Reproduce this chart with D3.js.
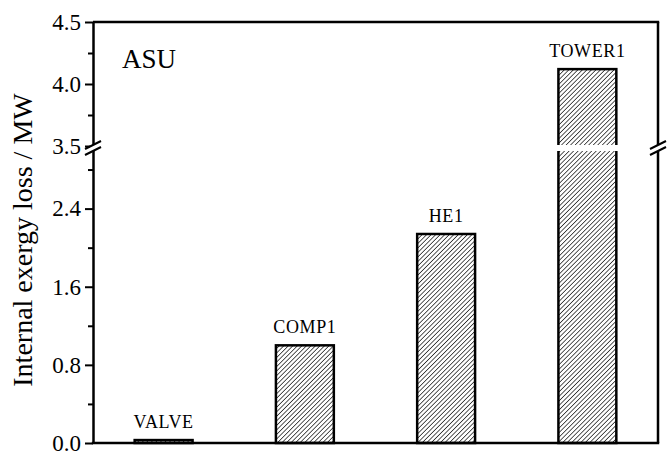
<!DOCTYPE html>
<html>
<head>
<meta charset="utf-8">
<script src="https://cdn.jsdelivr.net/npm/d3@7"></script>
<style>
  html, body { margin: 0; padding: 0; background: #fff; }
  svg { display: block; }
  svg text { font-family: "Liberation Serif", "Tinos", "Times New Roman", "DejaVu Serif", serif !important; fill: #000; }
</style>
</head>
<body>
<svg id="chart" width="667" height="452"></svg>
<script>
// Internal exergy loss per unit of the ASU (MW)
const units = ["VALVE", "COMP1", "HE1", "TOWER1"];
const losses = [0.03, 1.0, 2.14, 4.12];

// Broken y axis: lower part 0–3.0, upper part 3.5–4.5
const lowerTicks = [0.0, 0.8, 1.6, 2.4];
const lowerMinor = [0.4, 1.2, 2.0, 2.8];
const upperTicks = [3.5, 4.0, 4.5];
const upperMinor = [3.75, 4.25];

const svg = d3.select("#chart");
const plotL = 93, plotR = 658, plotT = 22, plotB = 443;
const breakLow = 150, breakHigh = 146;

const x = d3.scaleBand().domain(units).range([plotL, plotR])
  .paddingInner(0.59).paddingOuter(0.295);
const yLow = d3.scaleLinear().domain([0, 3.0]).range([plotB, breakLow]);
const yHigh = d3.scaleLinear().domain([3.5, 4.5]).range([breakHigh, plotT]);
const yOf = v => v > 3.0 ? yHigh(v) : yLow(v);

// diagonal hatch fill
const defs = svg.append("defs");
const step = 3.2;
const pat = defs.append("pattern")
  .attr("id", "hatch").attr("patternUnits", "userSpaceOnUse")
  .attr("width", step).attr("height", step)
  .attr("patternTransform", "rotate(45)");
pat.append("rect").attr("width", step).attr("height", step).attr("fill", "#fff");
pat.append("line").attr("x1", 0).attr("y1", 0).attr("x2", 0).attr("y2", step)
  .attr("stroke", "#111").attr("stroke-width", 1.4);

// bars
const bars = svg.append("g");
bars.selectAll("rect.bar").data(units).join("rect")
  .attr("class", "bar")
  .attr("x", d => x(d))
  .attr("width", x.bandwidth())
  .attr("y", (d, i) => yOf(losses[i]))
  .attr("height", (d, i) => plotB - yOf(losses[i]))
  .attr("fill", "url(#hatch)")
  .attr("stroke", "#000").attr("stroke-width", 2.5);

// gap across bars that cross the axis break
bars.selectAll("rect.gap").data(units.filter((d, i) => losses[i] > 3.0)).join("rect")
  .attr("class", "gap")
  .attr("x", d => x(d) - 3).attr("width", x.bandwidth() + 6)
  .attr("y", breakHigh - 1).attr("height", breakLow - breakHigh + 2)
  .attr("fill", "#fff");

// unit names above bars
svg.append("g").selectAll("text").data(units).join("text")
  .attr("x", d => x(d) + x.bandwidth() / 2)
  .attr("y", (d, i) => yOf(losses[i]) - 12)
  .attr("text-anchor", "middle")
  .attr("font-size", 18)
  .attr("letter-spacing", 0.6)
  .text(d => d);

// frame: top and right, bottom axis
const frame = svg.append("g").attr("stroke", "#000").attr("stroke-width", 2.5).attr("fill", "none");
frame.append("line").attr("x1", plotL).attr("x2", plotR + 1.2).attr("y1", plotT).attr("y2", plotT);
frame.append("line").attr("x1", plotR).attr("x2", plotR).attr("y1", plotT).attr("y2", plotB);
frame.append("line").attr("x1", plotL - 1.2).attr("x2", plotR + 1.2).attr("y1", plotB).attr("y2", plotB);

// left axis in two segments
function styleAxis(g) {
  g.select(".domain").attr("stroke-width", 2.5);
  g.selectAll(".tick line").attr("stroke-width", 2);
  g.selectAll(".tick text").attr("font-size", 23).attr("fill", "#000");
}
svg.append("g").attr("transform", `translate(${plotL},0)`)
  .call(d3.axisLeft(yLow).tickValues(lowerTicks).tickFormat(d3.format(".1f"))
    .tickSize(8).tickSizeOuter(0).tickPadding(4))
  .call(styleAxis);
svg.append("g").attr("transform", `translate(${plotL},0)`)
  .call(d3.axisLeft(yLow).tickValues(lowerMinor).tickFormat("").tickSize(5).tickSizeOuter(0))
  .call(g => g.select(".domain").remove())
  .call(g => g.selectAll(".tick line").attr("stroke-width", 2));
svg.append("g").attr("transform", `translate(${plotL},0)`)
  .call(d3.axisLeft(yHigh).tickValues(upperTicks).tickFormat(d3.format(".1f"))
    .tickSize(8).tickSizeOuter(0).tickPadding(4))
  .call(styleAxis);
svg.append("g").attr("transform", `translate(${plotL},0)`)
  .call(d3.axisLeft(yHigh).tickValues(upperMinor).tickFormat("").tickSize(5).tickSizeOuter(0))
  .call(g => g.select(".domain").remove())
  .call(g => g.selectAll(".tick line").attr("stroke-width", 2));

// break marks on both vertical axes
[plotL, plotR].forEach(ax => {
  const yc = (breakLow + breakHigh) / 2;
  svg.append("rect").attr("x", ax - 3).attr("y", yc - 3).attr("width", 6).attr("height", 6).attr("fill", "#fff");
  [yc - 3, yc + 3].forEach(yy => {
    svg.append("line")
      .attr("x1", ax - 8).attr("y1", yy + 4).attr("x2", ax + 8).attr("y2", yy - 4)
      .attr("stroke", "#000").attr("stroke-width", 2);
  });
});

// panel label
svg.append("text").attr("x", 122).attr("y", 68).attr("font-size", 27).text("ASU");

// y axis title
svg.append("text")
  .attr("transform", "translate(32,240) rotate(-90)")
  .attr("text-anchor", "middle")
  .attr("font-size", 28)
  .text("Internal exergy loss / MW");
</script>
</body>
</html>
